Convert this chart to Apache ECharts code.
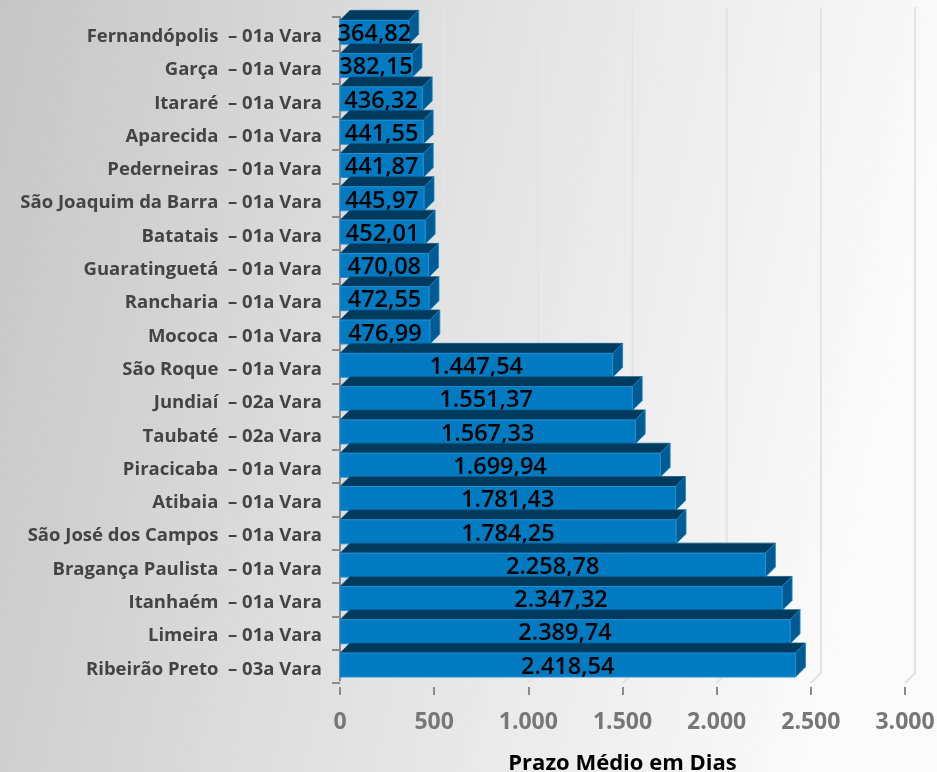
<!DOCTYPE html>
<html>
<head>
<meta charset="utf-8">
<script src="https://cdn.jsdelivr.net/npm/echarts@6/dist/echarts.min.js"></script>
<style>html,body{margin:0;padding:0;}#chart{width:937px;height:772px;}</style>
</head>
<body>
<div id="chart"></div>
<script>
// Data (top to bottom as shown)
var comarcas = ['Fernandópolis','Garça','Itararé','Aparecida','Pederneiras','São Joaquim da Barra','Batatais','Guaratinguetá','Rancharia','Mococa','São Roque','Jundiaí','Taubaté','Piracicaba','Atibaia','São José dos Campos','Bragança Paulista','Itanhaém','Limeira','Ribeirão Preto'];
var varas = ['01a Vara','01a Vara','01a Vara','01a Vara','01a Vara','01a Vara','01a Vara','01a Vara','01a Vara','01a Vara','01a Vara','02a Vara','02a Vara','01a Vara','01a Vara','01a Vara','01a Vara','01a Vara','01a Vara','03a Vara'];
var prazos = [364.82,382.15,436.32,441.55,441.87,445.97,452.01,470.08,472.55,476.99,1447.54,1551.37,1567.33,1699.94,1781.43,1784.25,2258.78,2347.32,2389.74,2418.54];
var xTicks = [0,500,1000,1500,2000,2500,3000];
var axisTitle = 'Prazo Médio em Dias';

var categories = comarcas.map(function(c,i){ return c + '  \u2013 ' + varas[i]; });

var FONT = 'Open Sans';

function fmtBR(v, dec){
  var s = v.toFixed(dec);
  var parts = s.split('.');
  var ip = parts[0].replace(/\B(?=(\d{3})+(?!\d))/g, '.');
  return dec > 0 ? ip + ',' + parts[1] : ip;
}

var D = 10; // 3D depth

function renderBar(params, api){
  var v = api.value(0), ci = api.value(1);
  var p0 = api.coord([0, ci]);
  var p1 = api.coord([v, ci]);
  var band = api.size([0, 1])[1];
  var yc = p0[1];
  var yt = yc - band * 0.40, yb = yc + band * 0.32;
  var x0 = p0[0], x1 = p1[0];
  return {
    type: 'group',
    children: [
      { type: 'polygon', shape: { points: [[x0, yt],[x0 + D, yt - D],[x1 + D, yt - D],[x1, yt]] },
        style: { fill: '#003a5c', stroke: '#0b5d8f', lineWidth: 0.8 } },
      { type: 'polygon', shape: { points: [[x1, yt],[x1 + D, yt - D],[x1 + D, yb - D],[x1, yb]] },
        style: { fill: '#005b93', stroke: '#1a86c8', lineWidth: 0.8 } },
      { type: 'rect', shape: { x: x0, y: yt, width: x1 - x0, height: yb - yt },
        style: { fill: '#007ac0', stroke: '#2190d6', lineWidth: 1 } },
      { type: 'text', style: { text: fmtBR(v, 2), x: (x0 + x1) / 2, y: (yt + yb) / 2 + 2,
        align: 'center', verticalAlign: 'middle', fontSize: 23.5, fontWeight: 600, fontFamily: FONT, fill: '#000' } }
    ]
  };
}

function renderGrid(params, api){
  var v = api.value(0);
  var x = api.coord([v, 0])[0];
  var cs = params.coordSys;
  var top = cs.y, bottom = cs.y + cs.height;
  return {
    type: 'polyline',
    shape: { points: [[x + D, top - D],[x + D, bottom - D],[x, bottom]] },
    style: { stroke: '#e3e3e3', lineWidth: 2, fill: null }
  };
}

var chart = echarts.init(document.getElementById('chart'));
chart.setOption({
  backgroundColor: { type: 'linear', x: 0, y: 0, x2: 1, y2: 0.25,
    colorStops: [{ offset: 0, color: '#c6c6c6' }, { offset: 0.5, color: '#e2e2e2' }, { offset: 1, color: '#fbfbfb' }] },
  animation: false,
  grid: { left: 340, right: 32, top: 17, bottom: 89, containLabel: false, outerBoundsMode: 'none' },
  xAxis: {
    type: 'value', min: 0, max: 3000, interval: 500,
    offset: 4,
    axisLine: { show: false },
    axisTick: { show: true, length: 8, lineStyle: { color: '#8a8a8a', width: 2 } },
    splitLine: { show: false },
    axisLabel: { margin: 24, color: '#777', fontSize: 23, fontWeight: 'bold', fontFamily: FONT,
      formatter: function(v){ return fmtBR(v, 0); } },
    name: axisTitle, nameLocation: 'middle', nameGap: 66,
    nameTextStyle: { color: '#000', fontSize: 22, fontWeight: 'bold', fontFamily: FONT }
  },
  yAxis: {
    type: 'category', data: categories, inverse: true,
    axisLine: { show: true, lineStyle: { color: '#8a8a8a', width: 2 } },
    axisTick: { show: true, length: 8, lineStyle: { color: '#8a8a8a', width: 2 } },
    axisLabel: { margin: 18, color: '#444', fontSize: 18.5, fontWeight: 'bold', fontFamily: FONT,
      formatter: function(v){ return '{a|' + v + '}'; },
      rich: { a: { color: '#444', fontSize: 18.5, fontWeight: 'bold', fontFamily: FONT, padding: [6, 0, 0, 0] } } }
  },
  series: [
    { type: 'custom', renderItem: renderGrid, data: xTicks.map(function(t){ return [t, 0]; }), z: 1, silent: true },
    { type: 'custom', renderItem: renderBar, data: prazos.map(function(p, i){ return [p, i]; }), z: 2,
      encode: { x: 0, y: 1 } }
  ]
});
</script>
</body>
</html>
